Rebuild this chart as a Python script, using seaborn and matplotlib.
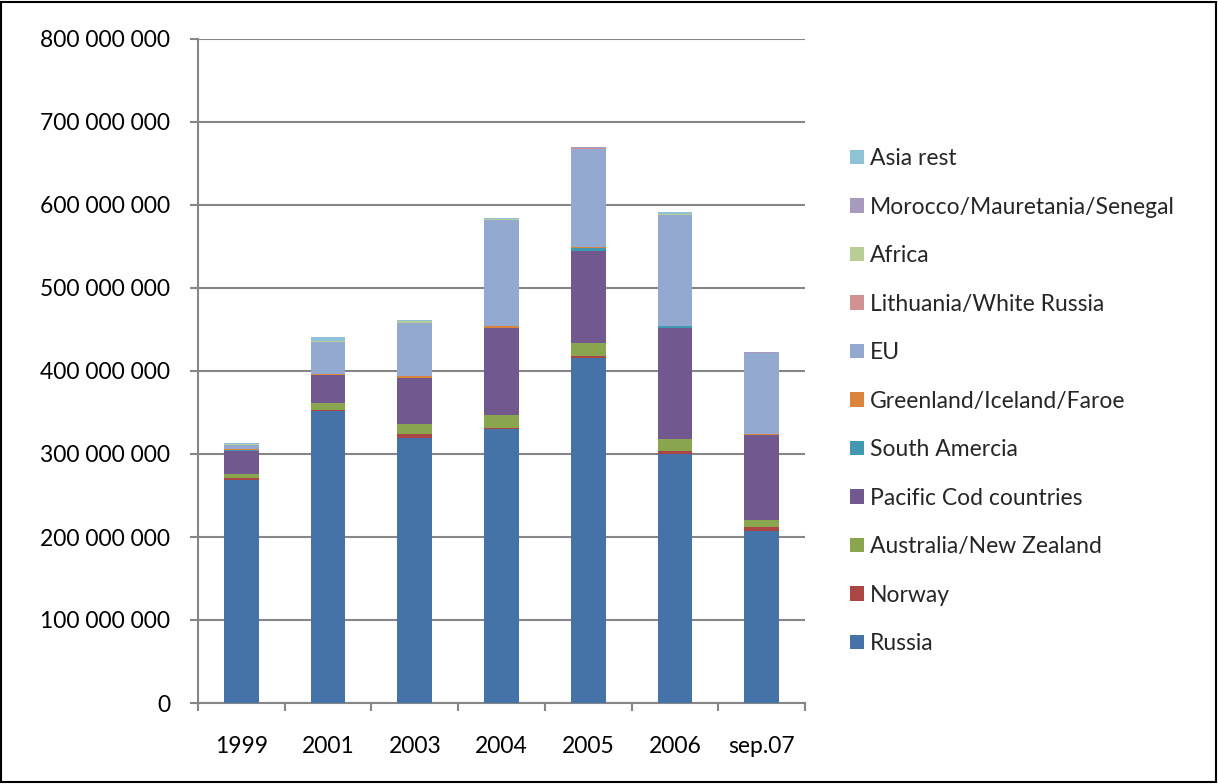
import matplotlib
matplotlib.use("Agg")
import matplotlib.pyplot as plt
from matplotlib.patches import Patch, Rectangle
from matplotlib.ticker import FuncFormatter, MultipleLocator, FixedLocator
import numpy as np
import seaborn as sns

# Export values per market, million units
years = ['1999', '2001', '2003', '2004', '2005', '2006', 'sep.07']
russia = [269, 351.5, 319, 330, 416, 300.4, 207]
norway = [1.5, 1.5, 5, 1.7, 2, 3.2, 5]
australia_nz = [6, 9, 12, 15.3, 15.7, 14.4, 8.5]
pacific_cod = [27.5, 33, 55.5, 105, 111, 134, 102]
south_america = [0.3, 0.3, 0.3, 0.3, 3.5, 2, 0.3]
greenland_iceland_faroe = [1.5, 1.5, 2.2, 1.7, 1.2, 0.8, 1.5]
lithuania_white_russia = [0.2, 0.2, 0.2, 0.2, 0.2, 0.2, 0.2]
eu = [5, 38, 64, 128, 118.6, 133, 97.3]
africa = [1, 1, 2, 0.5, 0.3, 1.5, 0.3]
morocco_mauretania_senegal = [0.2, 0.2, 0.2, 0.2, 1, 0.2, 0.2]
asia_rest = [1, 5, 1, 1.5, 0.3, 1.9, 1]

series_names = ['Russia', 'Norway', 'Australia/New Zealand', 'Pacific Cod countries',
                'South Amercia', 'Greenland/Iceland/Faroe', 'EU',
                'Lithuania/White Russia', 'Africa', 'Morocco/Mauretania/Senegal',
                'Asia rest']
series_values = [russia, norway, australia_nz, pacific_cod, south_america,
                 greenland_iceland_faroe, eu, lithuania_white_russia, africa,
                 morocco_mauretania_senegal, asia_rest]
colors = ['#4572A7', '#AA4643', '#89A54E', '#71588F', '#4198AF', '#DB843D',
          '#93A9CF', '#D19392', '#B9CD96', '#A99BBD', '#8EC3D6']

sns.set_theme(style="white")
plt.rcParams['font.family'] = ['Lato', 'DejaVu Sans']

fig = plt.figure(figsize=(12.18, 7.84), dpi=100)
ax = fig.add_axes([198 / 1218, 81 / 784, 607 / 1218, 664 / 784])

values = np.array(series_values) * 1e6
cumulative = np.cumsum(values, axis=0)

# Stacked bars: draw cumulative totals from the top layer down
for i in range(len(series_names) - 1, -1, -1):
    sns.barplot(x=years, y=cumulative[i], color=colors[i], width=0.4,
                saturation=1, ax=ax, linewidth=0, zorder=3)

ax.set_xlim(-0.5, len(years) - 0.5)
ax.set_ylim(0, 800e6)
ax.yaxis.set_major_locator(MultipleLocator(100e6))
ax.yaxis.set_major_formatter(FuncFormatter(
    lambda v, p: f"{int(round(v)):,}".replace(",", " ")))
ax.grid(axis='y', color='#868686', linewidth=1.5, zorder=0)
ax.grid(axis='x', visible=False)

for side in ['top', 'right']:
    ax.spines[side].set_visible(False)
for side in ['left', 'bottom']:
    ax.spines[side].set_color('#868686')
    ax.spines[side].set_linewidth(1.5)

ax.tick_params(axis='y', which='major', left=True, length=6, width=1.5,
               color='#868686', labelsize=16.5, pad=14, labelcolor='#000000')
ax.tick_params(axis='x', which='major', bottom=False, labelsize=16.5, pad=18,
               labelcolor='#000000')
ax.xaxis.set_minor_locator(FixedLocator(np.arange(-0.5, len(years), 1.0)))
ax.tick_params(axis='x', which='minor', bottom=True, length=6, width=1.5,
               color='#868686')
ax.set_xlabel('')
ax.set_ylabel('')

handles = [Patch(facecolor=c, edgecolor='none') for c in colors]
leg = fig.legend(handles[::-1], series_names[::-1], loc='upper left',
                 bbox_to_anchor=(841 / 1218, 1 - 139 / 784), frameon=False,
                 fontsize=16.5, handlelength=0.6, handleheight=0.6,
                 handletextpad=0.25, labelspacing=1.2, borderaxespad=0)

fig.patches.append(Rectangle((0.001, 0.002), 0.997, 0.996, transform=fig.transFigure,
                             fill=False, edgecolor='black', linewidth=1.5))

fig.savefig('out.png', dpi=100)
